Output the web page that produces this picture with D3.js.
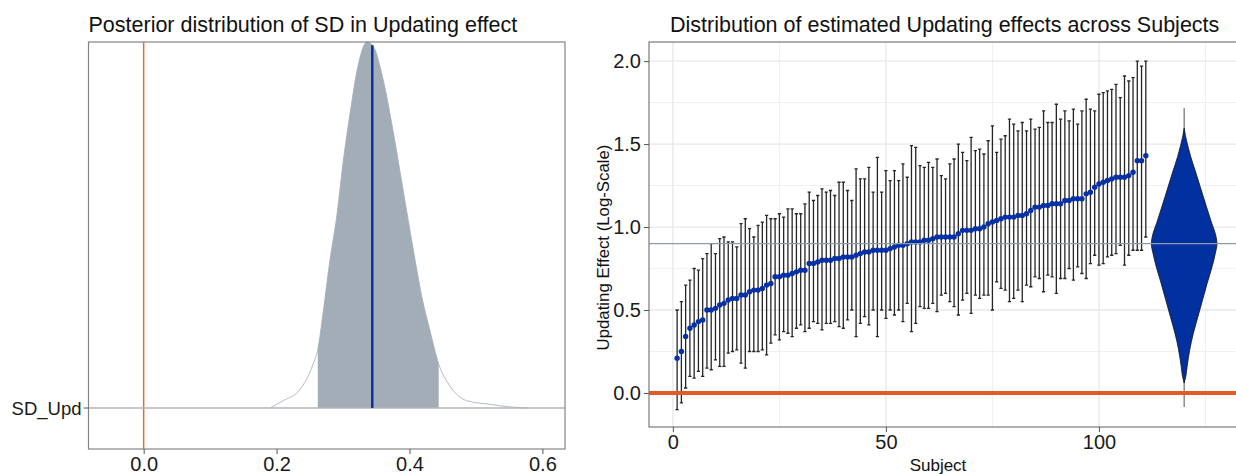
<!DOCTYPE html>
<html>
<head>
<meta charset="utf-8">
<script src="https://cdn.jsdelivr.net/npm/d3@7"></script>
<style>
  body { margin: 0; background: #fff; }
  svg { display: block; font-family: "Liberation Sans", Arial, sans-serif; }
</style>
</head>
<body>
<script>
// ---- left panel: posterior of SD ----
const sdGrid = [0.190, 0.210, 0.235, 0.255, 0.262, 0.270, 0.280, 0.291, 0.300, 0.311, 0.322, 0.336,
  0.345, 0.360, 0.375, 0.390, 0.405, 0.419, 0.431, 0.444, 0.461, 0.486, 0.521, 0.551, 0.578]
const sdDensity = [0, 0.02, 0.05, 0.12, 0.16, 0.26, 0.40, 0.53, 0.67, 0.81, 0.93, 1.0,
  0.99, 0.90, 0.76, 0.60, 0.44, 0.30, 0.21, 0.12, 0.06, 0.02, 0.01, 0.003, 0]
const sdInterval = [0.262, 0.444]
const sdMedian = 0.344
const sdLabel = "SD_Upd"
const leftTicks = [0, 0.2, 0.4, 0.6]

// ---- right panel: subject estimates ----
const subjects = d3.range(1, 112)
const estimate = [0.21, 0.25, 0.34, 0.39, 0.41, 0.43, 0.44, 0.50, 0.50, 0.51,
  0.53, 0.54, 0.56, 0.57, 0.57, 0.59, 0.59, 0.61, 0.62, 0.62,
  0.63, 0.65, 0.66, 0.70, 0.70, 0.71, 0.71, 0.72, 0.73, 0.74,
  0.74, 0.78, 0.78, 0.79, 0.80, 0.80, 0.80, 0.81, 0.81, 0.82,
  0.82, 0.82, 0.83, 0.84, 0.85, 0.85, 0.86, 0.86, 0.86, 0.86,
  0.87, 0.88, 0.89, 0.89, 0.90, 0.91, 0.91, 0.91, 0.92, 0.92,
  0.93, 0.94, 0.94, 0.94, 0.94, 0.94, 0.96, 0.98, 0.98, 0.98,
  0.99, 0.99, 1.00, 1.02, 1.03, 1.04, 1.05, 1.06, 1.06, 1.06,
  1.07, 1.07, 1.08, 1.10, 1.12, 1.12, 1.13, 1.13, 1.14, 1.14,
  1.14, 1.16, 1.16, 1.17, 1.17, 1.17, 1.20, 1.21, 1.24, 1.26,
  1.27, 1.28, 1.29, 1.30, 1.30, 1.30, 1.31, 1.33, 1.40, 1.40, 1.43]
const upper = [0.50, 0.55, 0.65, 0.68, 0.75, 0.74, 0.81, 0.84, 0.90, 0.84,
  0.93, 0.94, 0.91, 0.91, 0.88, 1.02, 1.05, 0.99, 0.94, 1.01,
  1.03, 1.07, 1.05, 1.05, 1.08, 1.06, 1.11, 1.11, 1.08, 1.08,
  1.14, 1.21, 1.16, 1.19, 1.23, 1.21, 1.22, 1.19, 1.27, 1.27,
  1.22, 1.16, 1.35, 1.29, 1.29, 1.36, 1.21, 1.42, 1.21, 1.34,
  1.28, 1.34, 1.28, 1.38, 1.30, 1.49, 1.48, 1.37, 1.36, 1.39,
  1.36, 1.41, 1.31, 1.29, 1.38, 1.41, 1.50, 1.45, 1.40, 1.54,
  1.46, 1.47, 1.44, 1.52, 1.61, 1.45, 1.53, 1.55, 1.65, 1.62,
  1.58, 1.63, 1.58, 1.65, 1.59, 1.60, 1.70, 1.63, 1.63, 1.74,
  1.65, 1.70, 1.64, 1.71, 1.62, 1.70, 1.77, 1.71, 1.70, 1.80,
  1.81, 1.82, 1.83, 1.86, 1.78, 1.91, 1.88, 1.90, 2.00, 1.97, 2.00]
const lower = [-0.10, -0.06, 0.03, 0.10, 0.09, 0.13, 0.10, 0.15, 0.14, 0.20,
  0.16, 0.16, 0.24, 0.25, 0.26, 0.18, 0.15, 0.25, 0.25, 0.25,
  0.26, 0.23, 0.30, 0.35, 0.32, 0.37, 0.36, 0.34, 0.39, 0.41,
  0.37, 0.39, 0.43, 0.42, 0.38, 0.42, 0.42, 0.43, 0.40, 0.39,
  0.44, 0.50, 0.34, 0.42, 0.46, 0.41, 0.50, 0.34, 0.50, 0.45,
  0.50, 0.47, 0.50, 0.43, 0.54, 0.37, 0.42, 0.52, 0.51, 0.51,
  0.54, 0.49, 0.59, 0.60, 0.55, 0.52, 0.47, 0.56, 0.60, 0.48,
  0.59, 0.57, 0.59, 0.59, 0.50, 0.67, 0.63, 0.62, 0.55, 0.57,
  0.62, 0.55, 0.65, 0.64, 0.70, 0.69, 0.61, 0.71, 0.70, 0.60,
  0.69, 0.69, 0.75, 0.68, 0.76, 0.72, 0.69, 0.78, 0.83, 0.77,
  0.78, 0.82, 0.83, 0.84, 0.89, 0.77, 0.83, 0.86, 0.86, 0.86, 0.94]

// violin of the population effect
const violinAt = 120
const violinValue = [1.596, 1.55, 1.49, 1.424, 1.325, 1.223, 1.122, 1.023, 0.96, 0.898,
  0.842, 0.76, 0.66, 0.56, 0.46, 0.36, 0.26, 0.16, 0.10, 0.06]
const violinDensity = [0, 0.04, 0.11, 0.2, 0.36, 0.52, 0.68, 0.84, 0.95, 1,
  0.95, 0.85, 0.70, 0.56, 0.42, 0.28, 0.17, 0.09, 0.05, 0]
const violinRange = [-0.085, 1.717]
const popEffect = 0.9
const rightYTicks = [0, 0.5, 1.0, 1.5, 2.0]
const rightXTicks = [0, 50, 100]

const W = 1236, H = 474
const orange = "#e35b22"
const blue = "#0630a6"
const font = "Liberation Sans, Arial, sans-serif"

const svg = d3.select("body").append("svg")
      .attr("width", W)
      .attr("height", H)
      .attr("viewBox", [0, 0, W, H])

// ================= left panel =================
const L = {left: 88.5, right: 565, top: 42, bottom: 449}
const xL = d3.scaleLinear([-0.083, 0.634], [L.left, L.right])
const yL = d3.scaleLinear([0, 1], [408, 42])

const sd = sdGrid.map((v, i) => ({x: v, d: sdDensity[i]}))

svg.append("clipPath").attr("id", "ci-clip")
      .append("rect")
      .attr("x", xL(sdInterval[0]))
      .attr("y", L.top)
      .attr("width", xL(sdInterval[1]) - xL(sdInterval[0]))
      .attr("height", L.bottom - L.top)

const areaL = d3.area()
      .x(d => xL(d.x))
      .y0(yL(0))
      .y1(d => yL(d.d))
      .curve(d3.curveMonotoneX)

// zero line
svg.append("line")
      .attr("x1", xL(0)).attr("x2", xL(0))
      .attr("y1", L.top).attr("y2", L.bottom)
      .attr("stroke", "#e8673c")
      .attr("stroke-width", 1.5)

// outline of the full density
svg.append("path")
      .datum(sd)
      .attr("d", d3.line().x(d => xL(d.x)).y(d => yL(d.d)).curve(d3.curveMonotoneX))
      .attr("fill", "none")
      .attr("stroke", "#b3bcc6")
      .attr("stroke-width", 1)

// shaded interval
svg.append("path")
      .datum(sd)
      .attr("clip-path", "url(#ci-clip)")
      .attr("d", areaL)
      .attr("fill", "#a3adb8")

// baseline
svg.append("line")
      .attr("x1", L.left).attr("x2", L.right)
      .attr("y1", yL(0)).attr("y2", yL(0))
      .attr("stroke", "#b4b4b4")
      .attr("stroke-width", 1.4)

// median line (interpolated height)
const medHeight = d3.scaleLinear(sdGrid, sdDensity)(sdMedian)
svg.append("line")
      .attr("x1", xL(sdMedian)).attr("x2", xL(sdMedian))
      .attr("y1", yL(0)).attr("y2", yL(medHeight))
      .attr("stroke", "#0a2a9c")
      .attr("stroke-width", 2.4)

// border
svg.append("rect")
      .attr("x", L.left).attr("y", L.top)
      .attr("width", L.right - L.left).attr("height", L.bottom - L.top)
      .attr("fill", "none")
      .attr("stroke", "#858585")
      .attr("stroke-width", 1.2)

// axes
svg.append("g")
      .attr("transform", `translate(0,${L.bottom})`)
      .call(d3.axisBottom(xL).tickValues(leftTicks).tickFormat(d3.format(".1f")).tickSize(5).tickPadding(3))
      .call(g => g.select(".domain").remove())
      .call(g => g.selectAll(".tick line").attr("stroke", "#555"))
      .call(g => g.selectAll(".tick text").attr("font-size", 20).attr("fill", "#1a1a1a")
            .attr("font-family", font))

svg.append("line")
      .attr("x1", L.left - 5).attr("x2", L.left)
      .attr("y1", yL(0)).attr("y2", yL(0))
      .attr("stroke", "#555")
svg.append("text")
      .attr("x", L.left - 7).attr("y", yL(0))
      .attr("dy", "0.36em")
      .attr("text-anchor", "end")
      .attr("font-size", 18.5)
      .attr("fill", "#1a1a1a")
      .text(sdLabel)

svg.append("text")
      .attr("x", L.left).attr("y", 32)
      .attr("font-size", 21.5)
      .attr("fill", "#111")
      .text("Posterior distribution of SD in Updating effect")

// ================= right panel =================
const R = {left: 649, right: 1237, top: 42, bottom: 427}
const xR = d3.scaleLinear([-5.6, 132.4], [R.left, R.right])
const yR = d3.scaleLinear([-0.205, 2.115], [R.bottom, R.top])

const grid = svg.append("g")
// minor grid
grid.selectAll(".minor-y")
      .data(d3.range(0.25, 2.1, 0.5))
      .join("line")
      .attr("x1", R.left).attr("x2", R.right)
      .attr("y1", d => yR(d)).attr("y2", d => yR(d))
      .attr("stroke", "#f0f0f0").attr("stroke-width", 1)
grid.selectAll(".minor-x")
      .data([25, 75, 125])
      .join("line")
      .attr("y1", R.top).attr("y2", R.bottom)
      .attr("x1", d => xR(d)).attr("x2", d => xR(d))
      .attr("stroke", "#f0f0f0").attr("stroke-width", 1)
// major grid
grid.selectAll(".major-y")
      .data(rightYTicks)
      .join("line")
      .attr("x1", R.left).attr("x2", R.right)
      .attr("y1", d => yR(d)).attr("y2", d => yR(d))
      .attr("stroke", "#e8e8e8").attr("stroke-width", 1.3)
grid.selectAll(".major-x")
      .data(rightXTicks)
      .join("line")
      .attr("y1", R.top).attr("y2", R.bottom)
      .attr("x1", d => xR(d)).attr("x2", d => xR(d))
      .attr("stroke", "#e8e8e8").attr("stroke-width", 1.3)

const subj = subjects.map((s, i) => ({s, est: estimate[i], lo: lower[i], hi: upper[i]}))
const capHalf = 0.38

// error bars
const bars = svg.append("g")
      .attr("stroke", "#262626")
      .attr("stroke-width", 1.3)
bars.selectAll(".bar")
      .data(subj)
      .join("path")
      .attr("d", d => `M${xR(d.s - capHalf)},${yR(d.hi)}H${xR(d.s + capHalf)}`
            + `M${xR(d.s)},${yR(d.hi)}V${yR(d.lo)}`
            + `M${xR(d.s - capHalf)},${yR(d.lo)}H${xR(d.s + capHalf)}`)
      .attr("fill", "none")

// points
svg.append("g")
      .selectAll("circle")
      .data(subj)
      .join("circle")
      .attr("cx", d => xR(d.s))
      .attr("cy", d => yR(d.est))
      .attr("r", 2.7)
      .attr("fill", blue)

// violin range line
svg.append("line")
      .attr("x1", xR(violinAt)).attr("x2", xR(violinAt))
      .attr("y1", yR(violinRange[0])).attr("y2", yR(violinRange[1]))
      .attr("stroke", "#6e6e6e")
      .attr("stroke-width", 1.2)

// violin
const violinHalf = 7.7
const vio = violinValue.map((v, i) => ({v, d: violinDensity[i]}))
svg.append("path")
      .datum(vio)
      .attr("d", d3.area()
            .y(d => yR(d.v))
            .x0(d => xR(violinAt - violinHalf * d.d))
            .x1(d => xR(violinAt + violinHalf * d.d))
            .curve(d3.curveMonotoneY))
      .attr("fill", "#0131a0")
      .attr("stroke", "#111")
      .attr("stroke-width", 0.8)

// reference lines
svg.append("line")
      .attr("x1", R.left).attr("x2", R.right)
      .attr("y1", yR(popEffect)).attr("y2", yR(popEffect))
      .attr("stroke", "#8e9caa")
      .attr("stroke-width", 1.4)
svg.append("line")
      .attr("x1", R.left).attr("x2", R.right)
      .attr("y1", yR(0)).attr("y2", yR(0))
      .attr("stroke", orange)
      .attr("stroke-width", 4)

// border
svg.append("rect")
      .attr("x", R.left).attr("y", R.top)
      .attr("width", R.right - R.left).attr("height", R.bottom - R.top)
      .attr("fill", "none")
      .attr("stroke", "#7a7a7a")
      .attr("stroke-width", 1.2)

svg.append("g")
      .attr("transform", `translate(${R.left},0)`)
      .call(d3.axisLeft(yR).tickValues(rightYTicks).tickFormat(d3.format(".1f")).tickSize(5).tickPadding(3))
      .call(g => g.select(".domain").remove())
      .call(g => g.selectAll(".tick line").attr("stroke", "#555"))
      .call(g => g.selectAll(".tick text").attr("font-size", 20).attr("fill", "#1a1a1a")
            .attr("font-family", font))

svg.append("g")
      .attr("transform", `translate(0,${R.bottom})`)
      .call(d3.axisBottom(xR).tickValues(rightXTicks).tickSize(5).tickPadding(3))
      .call(g => g.select(".domain").remove())
      .call(g => g.selectAll(".tick line").attr("stroke", "#555"))
      .call(g => g.selectAll(".tick text").attr("font-size", 20).attr("fill", "#1a1a1a")
            .attr("font-family", font))

svg.append("text")
      .attr("x", 938).attr("y", 471)
      .attr("text-anchor", "middle")
      .attr("font-size", 17)
      .attr("fill", "#111")
      .text("Subject")

svg.append("text")
      .attr("transform", `translate(609,${(R.top + R.bottom) / 2 + 13}) rotate(-90)`)
      .attr("text-anchor", "middle")
      .attr("font-size", 16.8)
      .attr("fill", "#111")
      .text("Updating Effect (Log-Scale)")

svg.append("text")
      .attr("x", 670).attr("y", 32)
      .attr("font-size", 21.5)
      .attr("fill", "#111")
      .text("Distribution of estimated Updating effects across Subjects")
</script>
</body>
</html>
